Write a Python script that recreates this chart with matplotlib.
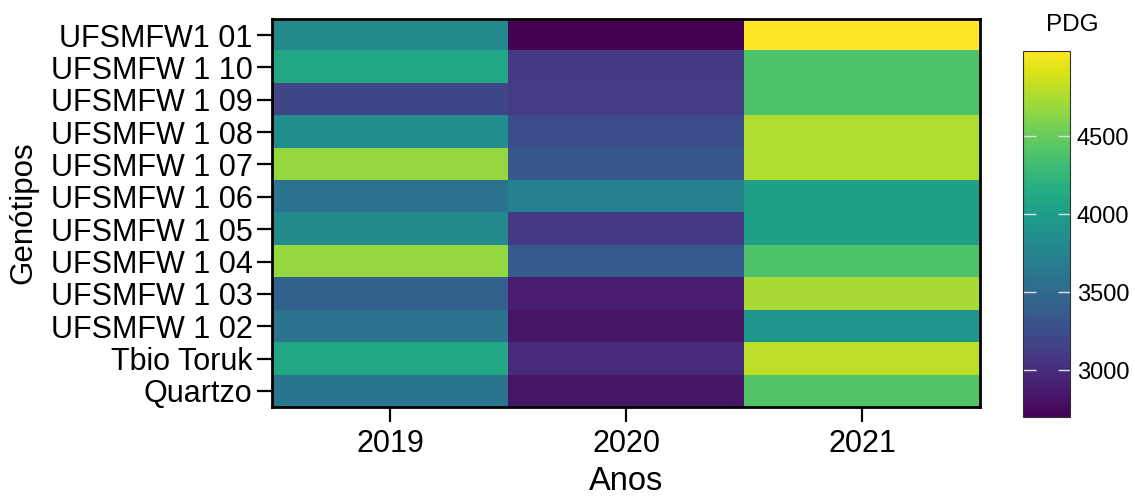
import numpy as np
import matplotlib.pyplot as plt

plt.rcParams['font.family'] = ['Liberation Sans', 'DejaVu Sans']

# genotypes from top to bottom of the heatmap
genotipos = ["UFSMFW1 01", "UFSMFW 1 10", "UFSMFW 1 09", "UFSMFW 1 08",
             "UFSMFW 1 07", "UFSMFW 1 06", "UFSMFW 1 05", "UFSMFW 1 04",
             "UFSMFW 1 03", "UFSMFW 1 02", "Tbio Toruk", "Quartzo"]
anos = ["2019", "2020", "2021"]

# PDG values
pdg_2019 = [3800, 4105, 3190, 3850, 4670, 3590, 3825, 4670, 3430, 3590, 4105, 3615]
pdg_2020 = [2710, 3100, 3120, 3265, 3335, 3730, 3100, 3380, 2890, 2820, 2980, 2820]
pdg_2021 = [5040, 4390, 4390, 4765, 4765, 4035, 4035, 4390, 4740, 3920, 4810, 4410]

matriz = np.array([pdg_2019, pdg_2020, pdg_2021]).T

fig = plt.figure(figsize=(11.35, 4.98), dpi=100)
ax = fig.add_axes([272/1135, 91/498, 708/1135, 388/498])
cax = fig.add_axes([1023/1135, 81/498, 47/1135, 366/498])

im = ax.imshow(matriz, cmap='viridis', aspect='auto',
               vmin=2700, vmax=5045, interpolation='nearest')

ax.set_xticks(range(len(anos)))
ax.set_xticklabels(anos)
ax.set_yticks(range(len(genotipos)))
ax.set_yticklabels(genotipos)
ax.tick_params(axis='both', length=11, width=1.6, labelsize=22)
ax.tick_params(axis='x', pad=5)
ax.tick_params(axis='y', pad=3)
for s in ax.spines.values():
    s.set_linewidth(2)

ax.set_xlabel("Anos", fontsize=23.5, labelpad=5)
fig.text(23/1135, 1 - 213/498, "Genótipos", rotation=90, ha='center', va='center', fontsize=22.5)

# colour bar
cb = fig.colorbar(im, cax=cax, ticks=[3000, 3500, 4000, 4500])
cb.outline.set_linewidth(0.8)
cb.outline.set_edgecolor('#333333')
cax.tick_params(direction='in', length=9, width=1, color='#e0e0e0',
                left=True, right=True, labelleft=False, labelright=True,
                labelsize=17, pad=5)
fig.text(1072/1135, 1 - 25/498, "PDG", ha='center', va='center', fontsize=17.5)

fig.savefig('out.png', dpi=100)
